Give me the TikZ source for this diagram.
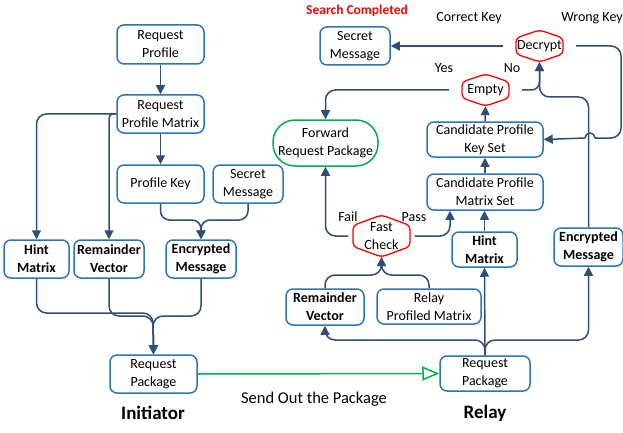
\documentclass[tikz,border=0pt]{standalone}
\usepackage{fontspec}
\setmainfont{Carlito}
\usetikzlibrary{arrows.meta,calc,backgrounds}
\definecolor{bblue}{HTML}{2E75B6}
\definecolor{navy}{HTML}{2F4F74}
\definecolor{gr}{HTML}{00B050}
\definecolor{rd}{HTML}{FF0000}
\newcommand\hexshape[3]{%
  \draw[hexline] ([shift={(-#2,-#3/2)}]#1.center) -- ([shift={(0,-#3)}]#1.center) -- ([shift={(#2,-#3/2)}]#1.center) -- ([shift={(#2,#3/2)}]#1.center) -- ([shift={(0,#3)}]#1.center) -- ([shift={(-#2,#3/2)}]#1.center) -- cycle;}
\begin{document}
\begin{tikzpicture}[x=1pt,y=-1pt,
 box/.style={draw=bblue, line width=1.5pt, rounded corners=7pt, align=center, inner sep=0pt, fill=white, font=\fontsize{14}{18}\selectfont},
 bbox/.style={box, font=\fontsize{14}{18}\selectfont\bfseries},
 hexn/.style={align=center, inner sep=0pt, font=\fontsize{14}{18}\selectfont},
 hexline/.style={draw=rd, line width=1.3pt, rounded corners=4pt, fill=white},
 conn/.style={draw=navy, line width=1.5pt, -{Triangle[length=9pt,width=9pt]}},
 line/.style={draw=navy, line width=1.5pt},
 lbl/.style={font=\fontsize{14}{18}\selectfont, inner sep=0pt},
 big/.style={font=\fontsize{19}{22}\selectfont\bfseries, inner sep=0pt},
]
\useasboundingbox (0,0) rectangle (623,433);

% ---------- Initiator side ----------
\node[box, minimum width=87pt, minimum height=39pt] (rp)  at (160.5,44.5) {Request\\Profile};
\node[box, minimum width=87pt, minimum height=38pt] (rpm) at (160.5,114) {Request\\Profile Matrix};
\node[box, minimum width=87pt, minimum height=38pt] (pk)  at (160.5,184) {Profile Key};
\node[box, minimum width=70pt, minimum height=38pt] (smL) at (248,184) {Secret\\Message};
\node[bbox, minimum width=65pt, minimum height=38pt] (hmL) at (36.5,259) {Hint\\Matrix};
\node[bbox, minimum width=70pt, minimum height=38pt] (rvL) at (109,259) {Remainder\\Vector};
\node[bbox, minimum width=70pt, minimum height=38pt] (emL) at (201,259) {Encrypted\\Message};
\node[box, minimum width=87pt, minimum height=38pt] (rpkL) at (153.5,374) {Request\\Package};
\node[big] (init) at (153,413) {Initiator};

\coordinate (j1) at (201,220);
\coordinate (j2) at (153,313);

\draw[conn] (rp) -- (rpm);
\draw[conn] (rpm) -- (pk);
\draw[conn, rounded corners=10pt] (rpm.west) -| (hmL.north);
\draw[conn, rounded corners=4pt] (rpm.west) -| (rvL.north);
\draw[conn, rounded corners=9pt] (pk.south) |- (j1) -- (emL.north);
\draw[conn, rounded corners=9pt] (smL.south) |- (j1) -- (emL.north);
\draw[conn, rounded corners=10pt] (hmL.south) |- (j2) -- (rpkL.north);
\draw[conn, rounded corners=10pt] (rvL.south) |- ([yshift=-3pt]j2) -- (rpkL.north);
\draw[conn, rounded corners=10pt] (emL.south) |- ([yshift=-3pt]j2) -- (rpkL.north);

% ---------- Relay side ----------
\node[box, minimum width=70pt, minimum height=38pt] (smR) at (355,46) {Secret\\Message};
\node[hexn, minimum width=73pt, minimum height=32pt] (dec) at (539.5,46) {Decrypt};
\node[hexn, minimum width=73pt, minimum height=32pt] (emp) at (485.5,90) {Empty};
\node[box, draw=gr, rounded corners=22pt, minimum width=105pt, minimum height=46pt] (fwd) at (325.5,143) {Forward\\Request Package};
\node[box, minimum width=116pt, minimum height=35pt] (cpks) at (485,139.5) {Candidate Profile\\Key Set};
\node[box, minimum width=116pt, minimum height=36pt] (cpms) at (485,192) {Candidate Profile\\Matrix Set};
\node[hexn, minimum width=66pt, minimum height=42pt] (fc) at (381.5,236) {Fast\\Check};
\node[bbox, minimum width=65pt, minimum height=35pt] (hmR) at (484.5,249.5) {Hint\\Matrix};
\node[bbox, minimum width=69pt, minimum height=38pt] (emR) at (588.5,247) {Encrypted\\Message};
\node[bbox, minimum width=78pt, minimum height=36pt] (rvR) at (325,307) {Remainder\\Vector};
\node[box, minimum width=104pt, minimum height=35pt] (rpmR) at (429,306.5) {Relay\\Profiled Matrix};
\node[box, minimum width=90pt, minimum height=35pt] (rpkR) at (485,373.5) {Request\\Package};
\node[big] (relay) at (485,413) {Relay};

\begin{scope}[on background layer]
\hexshape{dec}{23.5}{16}
\hexshape{emp}{23.5}{16}
\hexshape{fc}{28.5}{21}
\end{scope}

% labels
\node[lbl, font=\fontsize{13.5}{16}\selectfont\bfseries, text=rd] (sc) at (357,11) {Search Completed};
\node[lbl] (ck) at (469,18) {Correct Key};
\node[lbl] (wk) at (592,18) {Wrong Key};
\node[lbl] (yes) at (444,68) {Yes};
\node[lbl] (no) at (512,68) {No};
\node[lbl] (fail) at (348,217) {Fail};
\node[lbl] (pass) at (414,217) {Pass};
\node[lbl, font=\fontsize{16.5}{19}\selectfont] (send) at (314,399) {Send Out the Package};

% connectors
\coordinate (wkc) at (621,138);
\coordinate (hopR) at (595,138);
\coordinate (hopL) at (585,138);
\coordinate (jd) at (539.5,97);
\coordinate (jf) at (381.5,275);
\coordinate (jr) at (485,340);
\coordinate (cpin) at ([xshift=-35pt]cpms.south);

\draw[conn] (dec.west) -- (smR.east);
\draw[line, rounded corners=10pt] (dec.east) -| (wkc) -- (hopR);
\draw[line] (hopR) arc[start angle=0, end angle=-180, radius=5];
\draw[conn] (hopL) -- (cpks.east);
\draw[conn, rounded corners=10pt] (emp.west) -| (fwd.north);
\draw[conn, rounded corners=8pt] (emp.east) -| (dec.south);
\draw[conn, rounded corners=10pt] (emR.north) |- (jd) -- (dec.south);
\draw[conn] (cpks) -- (emp);
\draw[conn] (cpms) -- (cpks);
\draw[conn] (hmR.north) -- (hmR.north |- cpms.south);
\draw[conn, rounded corners=10pt] (fc.west) -| (fwd.south);
\draw[conn, rounded corners=10pt] (fc.east) -| (cpin);
\draw[conn, rounded corners=10pt] (rvR.north) |- (jf) -- (fc.south);
\draw[conn, rounded corners=10pt] (rpmR.north) |- (jf) -- (fc.south);
\draw[conn] (rpkR.north) -- (hmR.south);
\draw[conn, rounded corners=10pt] (rpkR.north) -- (jr) -| (rvR.south);
\draw[conn, rounded corners=10pt] (rpkR.north) -- (jr) -| (emR.south);

\draw[draw=gr, line width=1.5pt, -{Triangle[open, length=17pt, width=14pt, line width=1.5pt]}] (rpkL.east) -- (rpkR.west);
\end{tikzpicture}
\end{document}
